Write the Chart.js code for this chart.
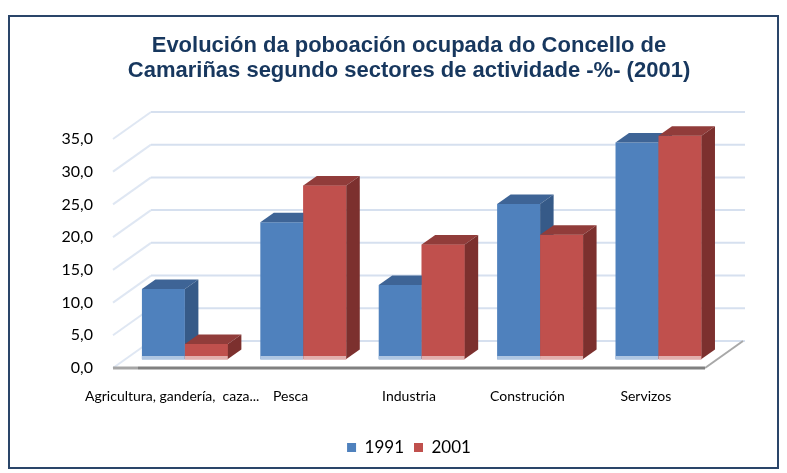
<!DOCTYPE html>
<html>
<head>
<meta charset="utf-8">
<script src="https://cdn.jsdelivr.net/npm/chart.js@4.4.1/dist/chart.umd.min.js"></script>
<style>
  html, body { margin: 0; padding: 0; background: #ffffff; }
  #wrap { width: 787px; height: 473px; }
</style>
</head>
<body>
<div id="wrap"><canvas id="c" width="787" height="473"></canvas></div>
<script>
// Poboación ocupada por sectores (%)
const categories = ['Agricultura, gandería,  caza...', 'Pesca', 'Industria', 'Construción', 'Servizos'];
const seriesNames = ['1991', '2001'];
const values1991 = [10.7, 20.9, 11.3, 23.7, 33.1];
const values2001 = [2.3, 26.5, 17.5, 19.0, 34.1];
const yTickLabels = ['0,0', '5,0', '10,0', '15,0', '20,0', '25,0', '30,0', '35,0'];

// 3D look: depth of the floor/walls and of each bar
const WALL_DX = 38, WALL_DY = 27;     // front edge -> back wall
const BAR_OX = 12.7, BAR_OY = 9;      // bars sit a third of the way back
const BAR_DX = 13.5, BAR_DY = 9.5;    // bar depth

const faceColors = [
  { top: '#3E6496', side: '#365A88', base: 'rgba(185,205,229,0.9)' },
  { top: '#913C3A', side: '#7C302E', base: 'rgba(230,185,184,0.9)' }
];

const frame3d = {
  id: 'frame3d',
  beforeDraw(chart) {
    const ctx = chart.ctx;
    ctx.save();
    ctx.fillStyle = '#ffffff';
    ctx.fillRect(0, 0, chart.width, chart.height);
    ctx.strokeStyle = '#2A4569';
    ctx.lineWidth = 2;
    ctx.strokeRect(9, 16, 769, 452);
    ctx.restore();
  },
  beforeDatasetsDraw(chart) {
    const ctx = chart.ctx;
    const y = chart.scales.y;
    const a = chart.chartArea;
    ctx.save();
    // left wall and back wall gridlines
    y.ticks.forEach(t => {
      const py = y.getPixelForValue(t.value);
      ctx.strokeStyle = '#DFE7F3';
      ctx.lineWidth = 2;
      ctx.beginPath();
      ctx.moveTo(a.left, py);
      ctx.lineTo(a.left + WALL_DX, py - WALL_DY);
      ctx.stroke();
      ctx.strokeStyle = '#D6E0EF';
      ctx.beginPath();
      ctx.moveTo(a.left + WALL_DX, py - WALL_DY);
      ctx.lineTo(a.right + WALL_DX + 2, py - WALL_DY);
      ctx.stroke();
    });
    // floor edges
    const fy = y.getPixelForValue(0);
    ctx.lineWidth = 2;
    ctx.strokeStyle = '#A8A8A8';
    ctx.beginPath();
    ctx.moveTo(a.right, fy);
    ctx.lineTo(a.right + WALL_DX, fy - WALL_DY);
    ctx.stroke();
    ctx.lineWidth = 3;
    ctx.strokeStyle = '#A6A6A6';
    ctx.beginPath();
    ctx.moveTo(a.left, fy);
    ctx.lineTo(a.left + 25, fy);
    ctx.stroke();
    ctx.strokeStyle = '#808080';
    ctx.beginPath();
    ctx.moveTo(a.left + 25, fy);
    ctx.lineTo(a.right, fy);
    ctx.stroke();
    ctx.restore();

    // bars are drawn shifted back into the box
    ctx.save();
    ctx.translate(BAR_OX, -BAR_OY);
  },
  afterDatasetsDraw(chart) {
    const ctx = chart.ctx;
    const faces = (meta, col) => {
      meta.data.forEach(el => {
        const p = el.getProps(['x', 'y', 'base', 'width'], true);
        const L = p.x - p.width / 2, R = p.x + p.width / 2, T = p.y, B = p.base;
        ctx.fillStyle = col.base;
        ctx.fillRect(L, B - 3, R - L, 4);
        ctx.fillStyle = col.top;
        ctx.beginPath();
        ctx.moveTo(L, T); ctx.lineTo(R, T);
        ctx.lineTo(R + BAR_DX, T - BAR_DY); ctx.lineTo(L + BAR_DX, T - BAR_DY);
        ctx.closePath(); ctx.fill();
        ctx.fillStyle = col.side;
        ctx.beginPath();
        ctx.moveTo(R, T); ctx.lineTo(R + BAR_DX, T - BAR_DY);
        ctx.lineTo(R + BAR_DX, B - BAR_DY); ctx.lineTo(R, B);
        ctx.closePath(); ctx.fill();
      });
    };
    const m0 = chart.getDatasetMeta(0);
    const m1 = chart.getDatasetMeta(1);
    faces(m0, faceColors[0]);
    // second series stands in front of the first one's side faces
    m1.data.forEach(el => el.draw(ctx));
    faces(m1, faceColors[1]);
    ctx.restore();
  }
};

new Chart(document.getElementById('c'), {
  type: 'bar',
  data: {
    labels: categories,
    datasets: [
      { label: seriesNames[0], data: values1991, backgroundColor: '#4F81BD', borderWidth: 0, clip: false },
      { label: seriesNames[1], data: values2001, backgroundColor: '#C0504D', borderWidth: 0, clip: false }
    ]
  },
  options: {
    responsive: false,
    animation: false,
    devicePixelRatio: 1,
    layout: { padding: { left: 30, right: 82, top: 16, bottom: 7 } },
    datasets: { bar: { categoryPercentage: 0.726, barPercentage: 1 } },
    plugins: {
      title: {
        display: true,
        fullSize: false,
        text: ['Evolución da poboación ocupada do Concello de', 'Camariñas segundo sectores de actividade -%- (2001)'],
        color: '#17375E',
        font: { family: '"Liberation Sans", Arial, sans-serif', size: 22, weight: 'bold', lineHeight: 1.14 },
        padding: { top: 17, bottom: 55.8 }
      },
      legend: {
        position: 'bottom',
        fullSize: false,
        labels: {
          boxWidth: 9, boxHeight: 9, padding: 10,
          color: '#000000',
          font: { family: 'Lato, "Open Sans", sans-serif', size: 17 }
        }
      },
      tooltip: { enabled: false }
    },
    scales: {
      x: {
        grid: { display: false },
        border: { display: false },
        ticks: {
          color: '#000000',
          padding: 12,
          maxRotation: 0,
          autoSkip: false,
          font: { family: 'Lato, "Open Sans", sans-serif', size: 14 }
        },
        afterFit(s) { s.height = 61; }
      },
      y: {
        min: 0, max: 35,
        grid: { display: false },
        border: { display: false },
        ticks: {
          stepSize: 5,
          padding: 12,
          color: '#000000',
          font: { family: 'Lato, "Open Sans", sans-serif', size: 16 },
          callback: (v, i) => yTickLabels[i]
        },
        afterFit(s) { s.width = 83; }
      }
    }
  },
  plugins: [frame3d]
});
</script>
</body>
</html>
